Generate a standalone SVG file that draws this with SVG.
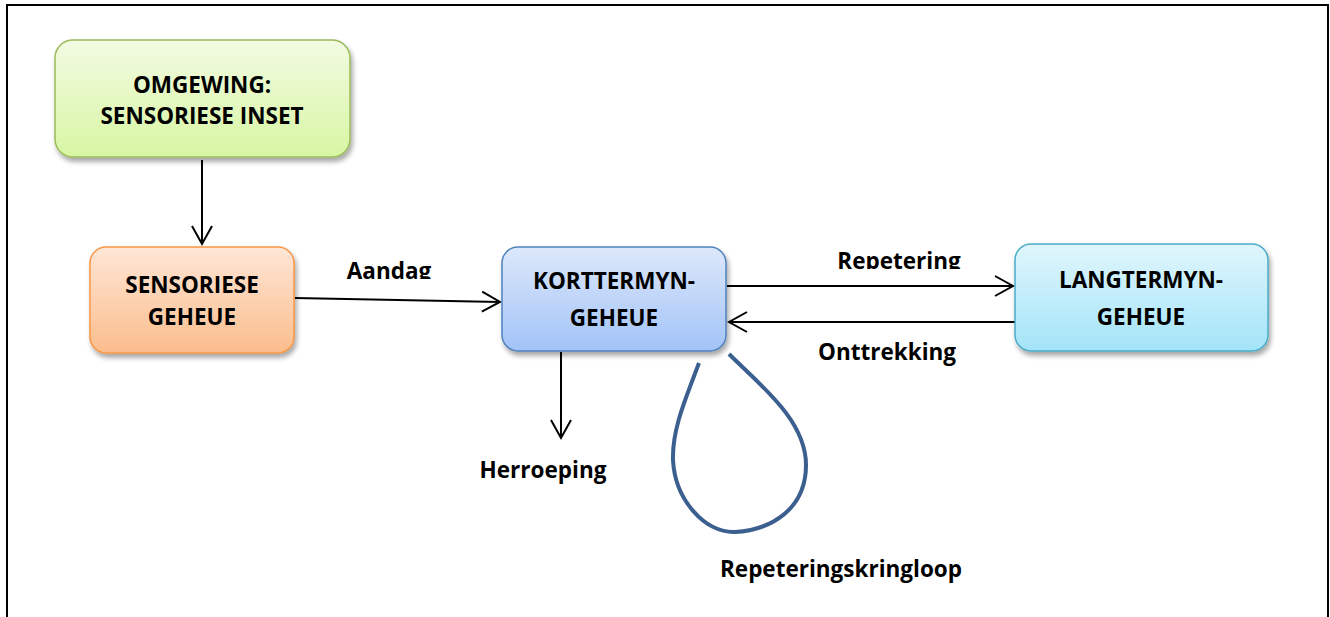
<svg xmlns="http://www.w3.org/2000/svg" width="1330" height="617" viewBox="0 0 1330 617">
<style>
.t{font-family:"Open Sans","Liberation Sans",sans-serif;font-weight:bold;font-size:22.5px;fill:#000;text-anchor:middle}
.c{fill:none;stroke:#000;stroke-width:2}
</style>
<defs>
<linearGradient id="gG" x1="0" y1="0" x2="0" y2="1"><stop offset="0" stop-color="#f2fbe2"/><stop offset="1" stop-color="#d8f6a3"/></linearGradient>
<linearGradient id="gO" x1="0" y1="0" x2="0" y2="1"><stop offset="0" stop-color="#fee6d6"/><stop offset="1" stop-color="#fbbd8c"/></linearGradient>
<linearGradient id="gB" x1="0" y1="0" x2="0" y2="1"><stop offset="0" stop-color="#dde8fb"/><stop offset="1" stop-color="#a2c3f7"/></linearGradient>
<linearGradient id="gC" x1="0" y1="0" x2="0" y2="1"><stop offset="0" stop-color="#e0f6fd"/><stop offset="1" stop-color="#a3e4f8"/></linearGradient>
<filter id="sh" x="-10%" y="-10%" width="130%" height="140%"><feDropShadow dx="2" dy="4" stdDeviation="2.5" flood-color="#000" flood-opacity="0.35"/></filter>
<marker id="ar" markerUnits="userSpaceOnUse" markerWidth="24" markerHeight="24" viewBox="-20 -12 24 24" refX="0" refY="0" orient="auto"><path d="M-18,-10 L0,0 L-18,10" fill="none" stroke="#000" stroke-width="2"/></marker>
<clipPath id="clA"><rect x="300" y="240" width="200" height="39"/></clipPath>
<clipPath id="clR"><rect x="800" y="230" width="200" height="39"/></clipPath>
</defs>
<rect x="7" y="5" width="1321" height="640" fill="none" stroke="#000" stroke-width="2"/>
<g id="connectors">
<line class="c" x1="202" y1="160" x2="202" y2="244" marker-end="url(#ar)"/>
<line class="c" x1="295" y1="298" x2="500" y2="302" marker-end="url(#ar)"/>
<line class="c" x1="727" y1="286" x2="1013" y2="286" marker-end="url(#ar)"/>
<line class="c" x1="1015" y1="322" x2="729" y2="322" marker-end="url(#ar)"/>
<line class="c" x1="561" y1="352" x2="561" y2="438" marker-end="url(#ar)"/>
<path d="M699,363 C685,400 672,430 673,460 C675,500 705,533 735,532 C770,530 806,510 806,465 C806,420 760,385 729,354" fill="none" stroke="#3b5f8e" stroke-width="4"/>
<text class="t" x="389" y="279" clip-path="url(#clA)">Aandag</text>
<text class="t" x="899" y="269" clip-path="url(#clR)">Repetering</text>
<text class="t" x="887" y="360">Onttrekking</text>
<text class="t" x="543" y="478">Herroeping</text>
<text class="t" x="841" y="577">Repeteringskringloop</text>
</g>
<g id="omgewing">
<rect x="55" y="40" width="295" height="117" rx="18" fill="url(#gG)" stroke="#9bbb59" stroke-width="1.5" filter="url(#sh)"/>
<text class="t" x="202" y="93">OMGEWING:</text>
<text class="t" x="202" y="124">SENSORIESE INSET</text>
</g>
<g id="sensoriese">
<rect x="90" y="247" width="204" height="106" rx="16" fill="url(#gO)" stroke="#f79646" stroke-width="1.5" filter="url(#sh)"/>
<text class="t" x="192" y="293">SENSORIESE</text>
<text class="t" x="192" y="325">GEHEUE</text>
</g>
<g id="korttermyn">
<rect x="502" y="247" width="224" height="104" rx="16" fill="url(#gB)" stroke="#4f81bd" stroke-width="1.5" filter="url(#sh)"/>
<text class="t" x="614" y="289">KORTTERMYN-</text>
<text class="t" x="614" y="326">GEHEUE</text>
</g>
<g id="langtermyn">
<rect x="1015" y="244" width="253" height="107" rx="16" fill="url(#gC)" stroke="#4bacc6" stroke-width="1.5" filter="url(#sh)"/>
<text class="t" x="1141" y="288">LANGTERMYN-</text>
<text class="t" x="1141" y="325">GEHEUE</text>
</g>
</svg>
